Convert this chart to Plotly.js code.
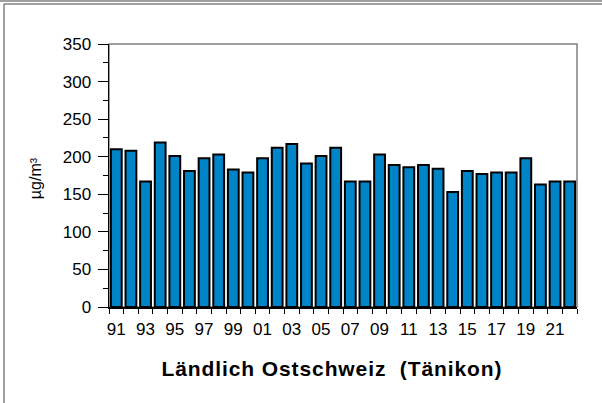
<!DOCTYPE html>
<html>
<head>
<meta charset="utf-8">
<script src="https://cdn.plot.ly/plotly-3.0.1.min.js"></script>
<style>
  body { margin: 0; background: #fff; }
  #viz { width: 602px; height: 403px; }
</style>
</head>
<body>
<div id="viz"></div>
<script>
// Jahre 1991 - 2022
var years = [1991, 1992, 1993, 1994, 1995, 1996, 1997, 1998, 1999, 2000,
             2001, 2002, 2003, 2004, 2005, 2006, 2007, 2008, 2009, 2010,
             2011, 2012, 2013, 2014, 2015, 2016, 2017, 2018, 2019, 2020,
             2021, 2022];

// Werte in µg/m³
var values = [210, 208, 167, 219, 201, 181, 198, 203, 183, 179,
              198, 212, 217, 191, 201, 212, 167, 167, 203, 189,
              186, 189, 184, 153, 181, 177, 179, 179, 198, 163,
              167, 167];

var labelYears = [1991, 1993, 1995, 1997, 1999, 2001, 2003, 2005, 2007, 2009,
                  2011, 2013, 2015, 2017, 2019, 2021];
var labelText = ['91', '93', '95', '97', '99', '01', '03', '05', '07', '09',
                 '11', '13', '15', '17', '19', '21'];

var chartTitle = 'Ländlich Ostschweiz\u00a0 (Tänikon)';
var unit = 'µg/m³';

var bars = {
  type: 'bar',
  x: years,
  y: values,
  marker: {
    color: 'rgb(0,132,200)',
    line: { color: 'black', width: 2 }
  },
  hoverinfo: 'x+y'
};

var font = { family: 'Liberation Sans, Arial, sans-serif', color: 'black' };

var layout = {
  width: 602,
  height: 403,
  margin: { l: 109, r: 25, t: 44, b: 96 },
  paper_bgcolor: 'white',
  plot_bgcolor: 'white',
  showlegend: false,
  bargap: 0.26,
  font: font,
  xaxis: {
    range: [1990.5, 2022.5],
    tickmode: 'array',
    tickvals: labelYears,
    ticktext: labelText,
    ticks: '',
    ticklabelstandoff: 6,
    showgrid: false,
    zeroline: false,
    showline: true,
    linecolor: 'black',
    linewidth: 1.5,
    tickfont: { size: 17, family: font.family },
    minor: { tick0: 1990.5, dtick: 1, ticks: 'outside', ticklen: 5, tickcolor: 'black', tickwidth: 1, showgrid: false }
  },
  yaxis: {
    range: [0, 350],
    dtick: 50,
    ticks: 'outside',
    ticklen: 10,
    tickcolor: 'black',
    tickwidth: 1,
    ticklabelstandoff: 3,
    showgrid: false,
    zeroline: false,
    showline: true,
    linecolor: 'black',
    linewidth: 1.5,
    tickfont: { size: 17, family: font.family },
    minor: { dtick: 25, ticks: 'outside', ticklen: 5, tickcolor: 'black', showgrid: false }
  },
  shapes: [
    // Rahmen Plotbereich
    { type: 'rect', xref: 'paper', yref: 'paper', x0: 0, x1: 1, y0: 0, y1: 1,
      line: { color: '#808080', width: 1.5 }, layer: 'below' },
    // äusserer Rahmen
    { type: 'line', xref: 'paper', yref: 'paper', x0: -0.24, x1: 1.06, y0: 1.1635, y1: 1.1635,
      line: { color: '#808080', width: 1.5 } },
    { type: 'line', xref: 'paper', yref: 'paper', x0: -0.2244, x1: 1.06, y0: 1.152, y1: 1.152,
      line: { color: '#808080', width: 1.5 } },
    { type: 'line', xref: 'paper', yref: 'paper', x0: -0.2244, x1: -0.2244, y0: 1.152, y1: -0.4,
      line: { color: '#808080', width: 1.5 } }
  ],
  annotations: [
    { text: '<b>' + chartTitle + '</b>', xref: 'paper', yref: 'paper',
      x: 0.4765, y: -0.232, xanchor: 'center', yanchor: 'middle', showarrow: false,
      font: { size: 21, family: font.family, color: 'black' } },
    { text: unit, xref: 'paper', yref: 'paper', textangle: -90,
      x: -0.158, y: 0.49, xanchor: 'center', yanchor: 'middle', showarrow: false,
      font: { size: 16, family: font.family, color: 'black' } }
  ]
};

Plotly.newPlot('viz', [bars], layout, { displayModeBar: false, staticPlot: true }).then(function () {
  // etwas Sperrung für den Titel wie im Original
  var t = document.querySelectorAll('.annotation-text');
  if (t.length) t[0].style.letterSpacing = '0.9px';
});
</script>
</body>
</html>
